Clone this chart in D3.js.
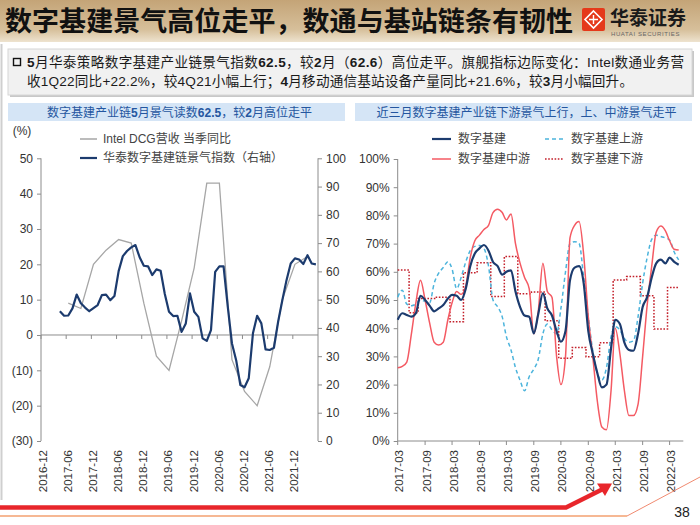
<!DOCTYPE html>
<html>
<head>
<meta charset="utf-8">
<script src="https://cdn.jsdelivr.net/npm/d3@7"></script>
<style>
body { margin: 0; background: #fff; }
svg { display: block; font-family: "Liberation Sans", Arial, "Noto Sans CJK SC", sans-serif; }
</style>
</head>
<body>
<script>
// ---- data ----

// left chart: monthly categories 2016-12 .. 2022-05
const leftFirstMonth = '2016-12';
const leftLastMonth = '2022-05';
const leftTickLabels = ['2016-12','2017-06','2017-12','2018-06','2018-12','2019-06',
                        '2019-12','2020-06','2020-12','2021-06','2021-12'];
const leftAxisTicks = [50, 40, 30, 20, 10, 0, -10, -20, -30];
const rightAxisTicks = [100, 90, 80, 70, 60, 50, 40, 30, 20, 10, 0];

// Intel DCG revenue yoy (%), quarterly
const intelQuarters = ['2017-06','2017-09','2017-12','2018-03','2018-06','2018-09','2018-12',
                       '2019-03','2019-06','2019-09','2019-12','2020-03','2020-06','2020-09',
                       '2020-12','2021-03','2021-06','2021-09','2021-12','2022-03'];
const intelYoy = [9, 7.5, 20, 24, 27, 26, 9, -6, -10, 4, 19, 43, 43, -7, -16, -20, -9, 10, 20, 22.2];

// Huatai digital infrastructure index (right axis), monthly from 2017-04
const indexFirstMonth = '2017-04';
const indexValues = [45.9, 44.3, 44.4, 46.9, 51.8, 48.7, 47.2, 45.9, 47.0, 48.1, 51.6, 51.8,
                     49.8, 51.3, 60.1, 65.4, 67.2, 68.5, 69.3, 65.0, 62.0, 61.8, 58.7, 60.7,
                     60.2, 52.0, 45.7, 44.2, 44.3, 38.6, 41.6, 52.2, 45.7, 43.9, 36.3, 35.4,
                     39.2, 59.8, 61.8, 61.8, 47.5, 34.5, 28.6, 19.8, 19.0, 22.2, 38.1, 44.3,
                     41.6, 32.4, 32.2, 33.0, 42.2, 49.8, 56.9, 62.8, 64.6, 64.2, 62.6, 65.7,
                     62.8, 62.5];

// right chart: monthly 2017-03 .. 2022-05 (%)
const chainFirstMonth = '2017-03';
const chainAxisEnd = '2022-06';
const chainTickLabels = ['2017-03','2017-09','2018-03','2018-09','2019-03','2019-09',
                         '2020-03','2020-09','2021-03','2021-09','2022-03'];
const chainAxisTicks = [0, 10, 20, 30, 40, 50, 60, 70, 80, 90, 100];

const chainTotal = [43, 45.3, 44.7, 44.1, 45.3, 51.5, 50, 48, 46, 47, 48.2, 50.5,
                    51.8, 51.5, 50, 54, 62, 66.5, 68.3, 69.5, 67.5, 63.5, 62, 59,
                    60, 60.5, 53, 47.5, 44.5, 44.1, 38.2, 45, 52.4, 47, 44.5, 39,
                    35.2, 39, 57, 61.5, 62, 56, 39, 31, 24, 19, 20, 33,
                    43, 41.5, 35, 32.3, 32, 38, 47.5, 51, 58, 63, 64.3, 63,
                    65, 63.5, 62.5];
const chainUp = [51, 53.5, 48.5, 48, 48.5, 50, 49.5, 49, 55.9, 59.5, 61.5, 63.6,
                 61, 54, 58, 63.5, 67.5, 69, 69.3, 68.3, 62, 50, 47.6, 44,
                 37, 32.3, 26, 21.5, 17.8, 22.8, 25.5, 29, 38, 41.5, 39.4, 38,
                 47, 60, 70, 70.7, 70.1, 58, 44, 32, 24, 21.6, 26, 37,
                 40.5, 39.4, 36.4, 35, 35.5, 44, 56, 65, 71.5, 73, 72.5, 72,
                 71.3, 67, 64.2];
const chainMid = [26, 26.5, 28, 38, 49, 57, 50, 42, 35, 34, 35, 43,
                  49, 53, 52, 55, 65, 71, 73, 75, 76.5, 81, 82.2, 81,
                  78.4, 80.5, 70, 63, 58, 54, 38, 46, 63, 53, 51, 30,
                  20, 30, 72, 76.5, 77.8, 66, 44, 30, 14, 5, 4, 18,
                  40, 31, 18, 9, 9, 13, 30, 48, 62, 74, 76.2, 74.5,
                  71, 68, 67.7];
const chainDown = [60.6, 60.6, 60.6, 45.5, 45.5, 50.5, 50.5, 50.5, 50.5, 51, 51, 51,
                   42.3, 42.3, 42.3, 59.7, 59.7, 59.7, 63.2, 63.2, 63.2, 51.2, 51.2, 51.2,
                   65.4, 65.4, 65.4, 52.2, 52.2, 52.2, 52.8, 52.8, 52.8, 42.6, 42.6, 42.6,
                   29.3, 29.3, 29.3, 33.2, 33.2, 33.2, 29.9, 29.9, 29.9, 34.8, 34.8, 34.8,
                   57.1, 57.1, 57.1, 58.3, 58.3, 58.3, 51.5, 51.5, 51.5, 39.7, 39.7, 39.7,
                   54.4, 54.4, 54.4];

// ---- page ----
const W = 700, H = 525;
const parseMonth = d3.timeParse('%Y-%m');
const fmtMonth = d3.timeFormat('%Y-%m');
const cjk = '"Noto Sans CJK SC", sans-serif';
const axisColor = '#8c8c8c';
const textColor = '#333';
const navy = '#1c3b6e';

const svg = d3.select('body').append('svg')
    .attr('width', W)
    .attr('height', H);

const defs = svg.append('defs');
const hdr = defs.append('linearGradient').attr('id', 'hdr')
    .attr('x1', 0).attr('y1', 0).attr('x2', 0).attr('y2', 1);
hdr.append('stop').attr('offset', '0%').attr('stop-color', '#c4a477');
hdr.append('stop').attr('offset', '70%').attr('stop-color', '#d6bf9a');
hdr.append('stop').attr('offset', '100%').attr('stop-color', '#eee3cf');

// header band
svg.append('rect').attr('width', W).attr('height', 42).attr('fill', 'url(#hdr)');
svg.append('text')
    .attr('x', 5).attr('y', 31)
    .attr('font-family', cjk).attr('font-weight', 700).attr('font-size', 27)
    .attr('textLength', 568).attr('lengthAdjust', 'spacing')
    .attr('fill', '#111')
    .text('数字基建景气高位走平，数通与基站链条有韧性');

// logo
const logo = svg.append('g').attr('transform', 'translate(582,8)');
logo.append('rect').attr('width', 23).attr('height', 23).attr('rx', 2).attr('fill', '#e5391a');
logo.append('path').attr('d', 'M11.5 3 L20 11.5 L11.5 20 L3 11.5 Z')
    .attr('fill', 'none').attr('stroke', '#fff').attr('stroke-width', 1.6);
logo.append('path').attr('d', 'M11.5 7 L11.5 16 M7 11.5 L16 11.5')
    .attr('stroke', '#fff').attr('stroke-width', 1.4);
svg.append('text').attr('x', 610).attr('y', 25)
    .attr('font-family', cjk).attr('font-weight', 700).attr('font-size', 19)
    .attr('fill', '#1a1a1a').text('华泰证券');
svg.append('text').attr('x', 611).attr('y', 36)
    .attr('font-size', 6).attr('fill', '#666').attr('letter-spacing', 0.6)
    .text('HUATAI SECURITIES');

// left page frame line
svg.append('line').attr('x1', 1.5).attr('x2', 1.5).attr('y1', 44).attr('y2', 500)
    .attr('stroke', '#cfcfcf').attr('stroke-width', 2);

// summary box
svg.append('rect').attr('x', 10).attr('y', 51).attr('width', 684).attr('height', 46)
    .attr('fill', '#c8c8c8');
svg.append('rect').attr('x', 8).attr('y', 49).attr('width', 684).attr('height', 46)
    .attr('fill', '#f1f1f1').attr('stroke', '#d6d6d6');
svg.append('rect').attr('x', 13.5).attr('y', 58.5).attr('width', 7).attr('height', 7)
    .attr('fill', 'none').attr('stroke', '#111').attr('stroke-width', 1.4);

const line1 = [['5', 1], ['月华泰策略数字基建产业链景气指数', 0], ['62.5', 1], ['，较', 0], ['2', 1],
               ['月（', 0], ['62.6', 1], ['）高位走平。旗舰指标边际变化：Intel数通业务营', 0]];
const line2 = [['收1Q22同比+22.2%，较4Q21小幅上行；', 0], ['4', 1],
               ['月移动通信基站设备产量同比+21.6%，较', 0], ['3', 1], ['月小幅回升。', 0]];
[[line1, 67, 657], [line2, 86, 606]].forEach(([parts, y, len]) => {
    const t = svg.append('text').attr('x', 27).attr('y', y)
        .attr('font-size', 13.6).attr('fill', '#1a1a1a')
        .attr('textLength', len).attr('lengthAdjust', 'spacing');
    parts.forEach(([s, b]) => t.append('tspan').attr('font-weight', b ? 700 : 400).text(s));
});

// panel title boxes
function panelTitle(x0, x1, parts) {
    svg.append('rect').attr('x', x0).attr('y', 103).attr('width', x1 - x0).attr('height', 18)
        .attr('fill', '#d5e5f6');
    const t = svg.append('text').attr('x', (x0 + x1) / 2 + 3).attr('y', 116.5)
        .attr('text-anchor', 'middle').attr('font-size', 12).attr('fill', '#2456a0');
    parts.forEach(([s, b]) => t.append('tspan').attr('font-weight', b ? 700 : 400).text(s));
}
panelTitle(8, 345, [['数字基建产业链', 0], ['5', 1], ['月景气读数', 0], ['62.5', 1],
                    ['，较', 0], ['2', 1], ['月高位走平', 0]]);
panelTitle(355, 692, [['近三月数字基建产业链下游景气上行，上、中游景气走平', 0]]);

// ---- left chart ----
const leftMonths = d3.timeMonth.range(parseMonth(leftFirstMonth),
                                      d3.timeMonth.offset(parseMonth(leftLastMonth), 1))
                     .map(fmtMonth);
const xL = d3.scaleBand().domain(leftMonths).range([41, 318]);
const xLc = m => xL(m) + xL.bandwidth() / 2;
const yL = d3.scaleLinear().domain([-30, 50]).range([441, 158.3]);
const yR = d3.scaleLinear().domain([0, 100]).range([441, 158.3]);

const left = svg.append('g');

// left y axis
const axL = left.append('g').attr('transform', 'translate(41,0)')
    .call(d3.axisLeft(yL).tickValues(leftAxisTicks).tickSize(4).tickPadding(4)
        .tickFormat(d => d < 0 ? `(${-d})` : d));
// right y axis
const axR = left.append('g').attr('transform', 'translate(318,0)')
    .call(d3.axisRight(yR).tickValues(rightAxisTicks).tickSize(4).tickPadding(4));
[axL, axR].forEach(a => {
    a.select('.domain').attr('stroke', axisColor).attr('d', a === axL
        ? `M0,${yL(-30)}V${yL(50)}` : `M0,${yR(0)}V${yR(100)}`);
    a.selectAll('.tick line').attr('stroke', axisColor);
    a.selectAll('.tick text').attr('font-size', 12).attr('fill', textColor)
        .attr('font-family', '"Liberation Sans", Arial, sans-serif');
});

// zero line with month ticks
const zeroY = yL(0);
left.append('line').attr('x1', 41).attr('x2', 318).attr('y1', zeroY).attr('y2', zeroY)
    .attr('stroke', axisColor);
left.selectAll('.ltick').data(leftTickLabels).join('line')
    .attr('x1', d => xL(d)).attr('x2', d => xL(d))
    .attr('y1', zeroY).attr('y2', zeroY + 4)
    .attr('stroke', axisColor);
left.selectAll('.llab').data(leftTickLabels).join('text')
    .attr('transform', d => `translate(${xL(d) + 1.5},450) rotate(-90)`)
    .attr('dy', '0.35em').attr('text-anchor', 'end')
    .attr('font-size', 11.5).attr('fill', textColor)
    .text(d => d);

left.append('text').attr('x', 22).attr('y', 135).attr('text-anchor', 'middle')
    .attr('font-size', 12).attr('fill', textColor).text('(%)');

// lines
const intelData = intelQuarters.map((m, i) => ({ m, v: intelYoy[i] }));
left.append('path').datum(intelData)
    .attr('fill', 'none').attr('stroke', '#a6a6a6').attr('stroke-width', 1.3)
    .attr('d', d3.line().x(d => xLc(d.m)).y(d => yL(d.v)));

const idxStart = parseMonth(indexFirstMonth);
const indexData = indexValues.map((v, i) => ({ m: fmtMonth(d3.timeMonth.offset(idxStart, i)), v }));
left.append('path').datum(indexData)
    .attr('fill', 'none').attr('stroke', navy).attr('stroke-width', 2.2)
    .attr('stroke-linejoin', 'round')
    .attr('d', d3.line().x(d => xLc(d.m)).y(d => yR(d.v)));

// left legend
const legL = [
    { y: 139, color: '#a6a6a6', w: 1.5, label: 'Intel DCG营收 当季同比' },
    { y: 158, color: navy, w: 2.2, label: '华泰数字基建链景气指数（右轴）' }
];
legL.forEach(d => {
    left.append('line').attr('x1', 80).attr('x2', 97).attr('y1', d.y).attr('y2', d.y)
        .attr('stroke', d.color).attr('stroke-width', d.w);
    left.append('text').attr('x', 103).attr('y', d.y).attr('dy', '0.35em')
        .attr('font-size', 12).attr('fill', '#444').text(d.label);
});

// ---- right chart ----
const cStart = parseMonth(chainFirstMonth);
const xC = d3.scaleTime().domain([cStart, parseMonth(chainAxisEnd)]).range([397.7, 683.3]);
const yC = d3.scaleLinear().domain([0, 100]).range([441, 159]);
const right = svg.append('g');

const axY = right.append('g').attr('transform', 'translate(397.7,0)')
    .call(d3.axisLeft(yC).tickValues(chainAxisTicks).tickSize(4).tickPadding(4)
        .tickFormat(d => d + '%'));
axY.select('.domain').attr('stroke', axisColor).attr('d', `M0,${yC(0)}V${yC(100)}`);
axY.selectAll('.tick line').attr('stroke', axisColor);
axY.selectAll('.tick text').attr('font-size', 12).attr('fill', textColor)
    .attr('font-family', '"Liberation Sans", Arial, sans-serif');

right.append('line').attr('x1', 397.7).attr('x2', 683.3).attr('y1', 441).attr('y2', 441)
    .attr('stroke', axisColor);
right.selectAll('.ctick').data(chainTickLabels).join('line')
    .attr('x1', d => xC(parseMonth(d))).attr('x2', d => xC(parseMonth(d)))
    .attr('y1', 441).attr('y2', 445).attr('stroke', axisColor);
right.selectAll('.clab').data(chainTickLabels).join('text')
    .attr('transform', d => `translate(${xC(parseMonth(d)) + 1.5},450) rotate(-90)`)
    .attr('dy', '0.35em').attr('text-anchor', 'end')
    .attr('font-size', 11.5).attr('fill', textColor)
    .text(d => d);

const toSeries = arr => arr.map((v, i) => ({ t: d3.timeMonth.offset(cStart, i), v }));
const smooth = d3.line().x(d => xC(d.t)).y(d => yC(d.v)).curve(d3.curveMonotoneX);
const stepped = d3.line().x(d => xC(d.t)).y(d => yC(d.v)).curve(d3.curveStep);

const chainSeries = [
    { name: '数字基建下游', data: chainDown, color: '#c3202b', w: 1.5, dash: '1.6,1.6', gen: stepped },
    { name: '数字基建上游', data: chainUp, color: '#4cb4dc', w: 1.5, dash: '4,3', gen: smooth },
    { name: '数字基建中游', data: chainMid, color: '#f45a63', w: 1.5, dash: null, gen: smooth },
    { name: '数字基建', data: chainTotal, color: navy, w: 2.2, dash: null, gen: smooth }
];
chainSeries.forEach(s => {
    right.append('path').datum(toSeries(s.data))
        .attr('fill', 'none').attr('stroke', s.color).attr('stroke-width', s.w)
        .attr('stroke-dasharray', s.dash)
        .attr('d', s.gen);
});

// right legend
const legC = [
    { x: 432, y: 139, s: chainSeries[3] },
    { x: 545, y: 139, s: chainSeries[1] },
    { x: 432, y: 159, s: chainSeries[2] },
    { x: 545, y: 159, s: chainSeries[0] }
];
legC.forEach(d => {
    right.append('line').attr('x1', d.x).attr('x2', d.x + 19).attr('y1', d.y).attr('y2', d.y)
        .attr('stroke', d.s.color).attr('stroke-width', d.s.w)
        .attr('stroke-dasharray', d.s.dash);
    right.append('text').attr('x', d.x + 26).attr('y', d.y).attr('dy', '0.35em')
        .attr('font-size', 12).attr('fill', '#444').text(d.s.name);
});

// ---- footer decoration ----
svg.append('line').attr('x1', 0).attr('x2', 627).attr('y1', 516).attr('y2', 516)
    .attr('stroke', '#f6b894').attr('stroke-width', 2);
svg.append('line').attr('x1', 627).attr('x2', 700).attr('y1', 516).attr('y2', 477)
    .attr('stroke', '#f08a70').attr('stroke-width', 1);
svg.append('path').attr('d', 'M0,507.5 H566 L603,489')
    .attr('fill', 'none').attr('stroke', '#e8262b').attr('stroke-width', 4.5);
svg.append('path').attr('d', 'M612,483.5 L597,483.5 L605,496 Z').attr('fill', '#e8262b');
svg.append('text').attr('x', 682).attr('y', 517).attr('text-anchor', 'middle')
    .attr('font-size', 14).attr('fill', '#222').text('38');
</script>
</body>
</html>
